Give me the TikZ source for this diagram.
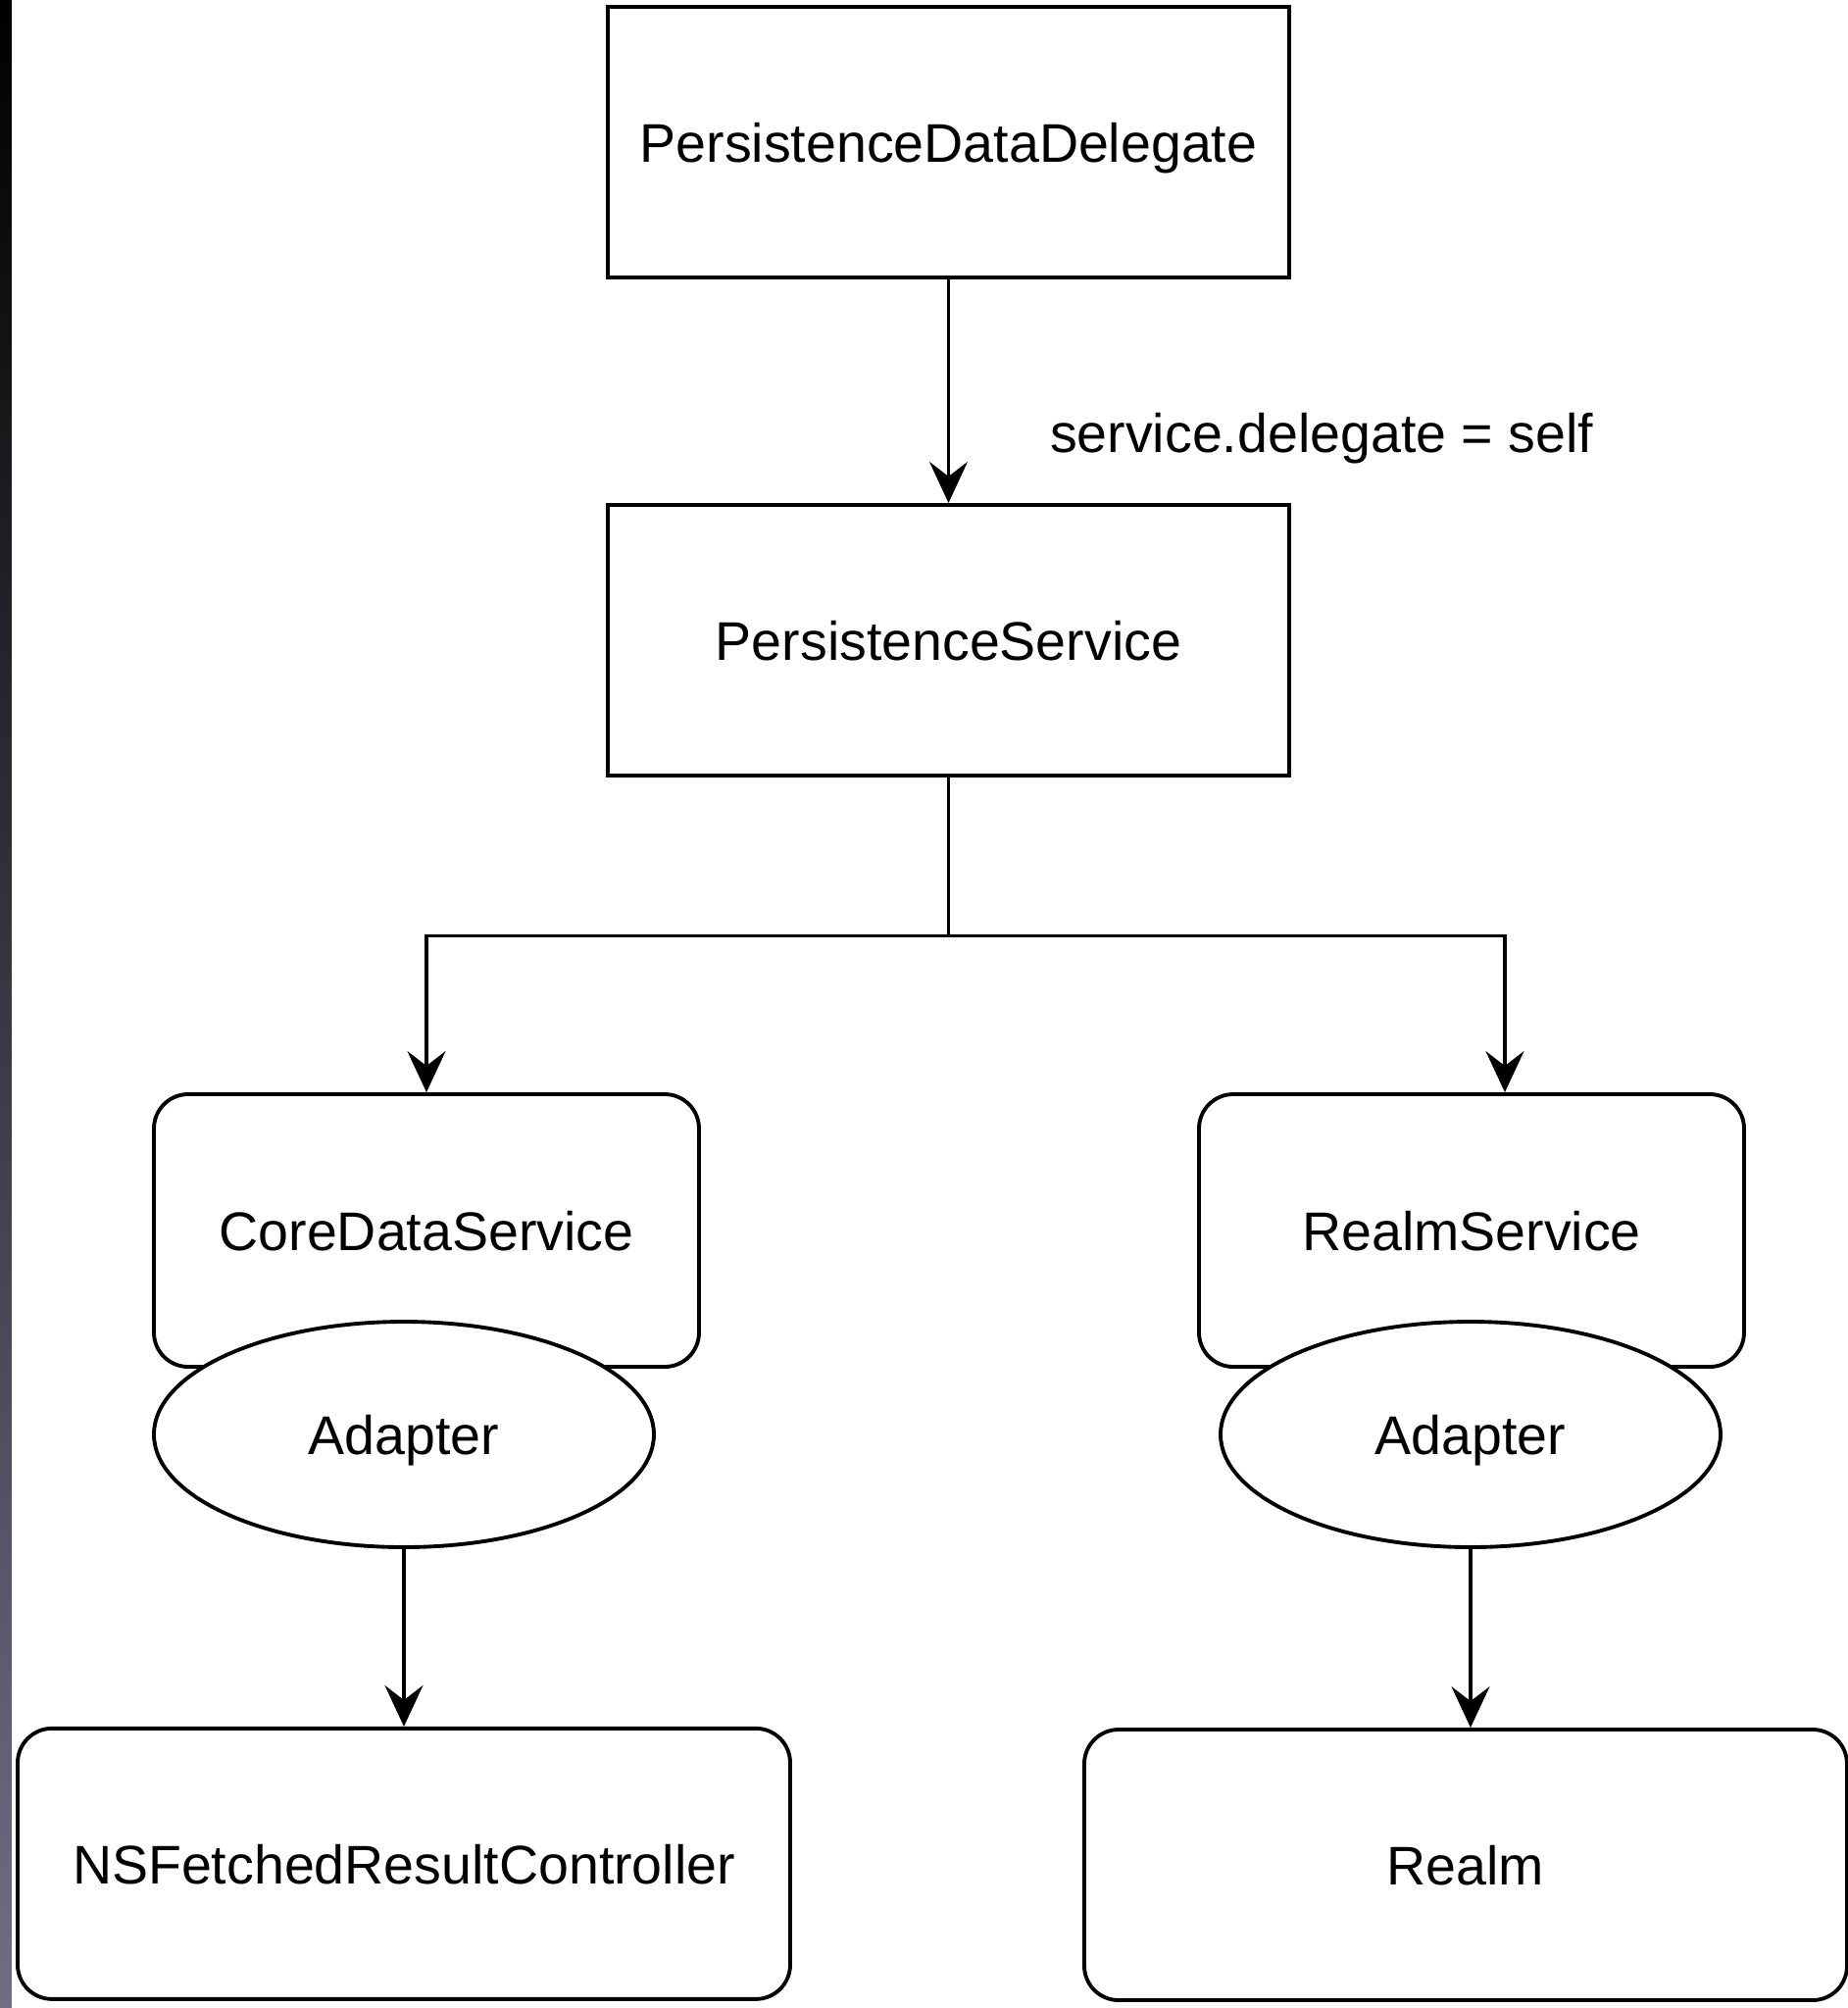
\documentclass[tikz,border=0pt]{standalone}
\usepackage{fontspec}
\setmainfont{Liberation Sans}
\usepackage{tikz}
\usetikzlibrary{arrows.meta, positioning, shapes.geometric, calc}
\definecolor{stripmid}{RGB}{22,22,52}
\definecolor{stripbot}{RGB}{112,110,134}
\tikzset{%
	box/.style={draw, rectangle, line width=1.1pt, minimum width=69.5mm, minimum height=27.6mm,%
		inner sep=0mm, text depth=0pt, fill=white},
	rbox/.style={draw, rectangle, line width=1.1pt, rounded corners=3.5mm, inner sep=0mm,%
		text depth=0pt, fill=white},
	adapter/.style={draw, ellipse, line width=1.1pt, minimum width=51mm, minimum height=23mm,%
		inner sep=0mm, text depth=0pt, fill=white},
	connector/.style={line width=0.9pt},
	sel/.style={-{Stealth[length=4.2mm, width=3.9mm, inset=1.5mm]}, line width=0.9pt},
	lbl/.style={inner sep=0mm}
}

\begin{document}
\begin{tikzpicture}[font=\fontsize{15.8pt}{19pt}\selectfont]
	\useasboundingbox (0,0) rectangle (18.85,-20.48);
	\shade[top color=black, middle color=stripmid, bottom color=stripbot] (0,0) rectangle (0.12,-20.48);
	\node[box] (dlg) at (9.675,-1.45) {PersistenceDataDelegate};
	\node[box] (svc) [below=2.28 of dlg] {PersistenceService};
	\coordinate[below=1.62 of svc.south] (split);
	\node[rbox, minimum width=55.6mm, minimum height=27.8mm] (core) at (4.35,-12.55) {CoreDataService};
	\node[rbox, minimum width=55.6mm, minimum height=27.8mm] (rsvc) at (15.01,-12.55) {RealmService};
	\node[adapter] (adl) at (4.12,-14.63) {Adapter};
	\node[adapter] (adr) at (15.0,-14.63) {Adapter};
	\node[rbox, minimum width=78.8mm, minimum height=27.6mm] (nsf) [below=1.81 of adl] {NSFetchedResultController};
	\node[rbox, minimum width=77.8mm, minimum height=27.6mm] (realm) at (14.95,-19.02) {Realm};
	\draw [sel] (dlg) to node[lbl, pos=0.71, right=1.02] {service.delegate = self} (svc);
	\draw [connector] (svc) -- (split);
	\draw [sel] (split) -| (core.north);
	\draw [sel] (split) -| ([xshift=3.4mm]rsvc.north);
	\draw [sel] (adl) -- (nsf);
	\draw [sel] (adr.south) -- (adr.south |- realm.north);
\end{tikzpicture}
\end{document}
